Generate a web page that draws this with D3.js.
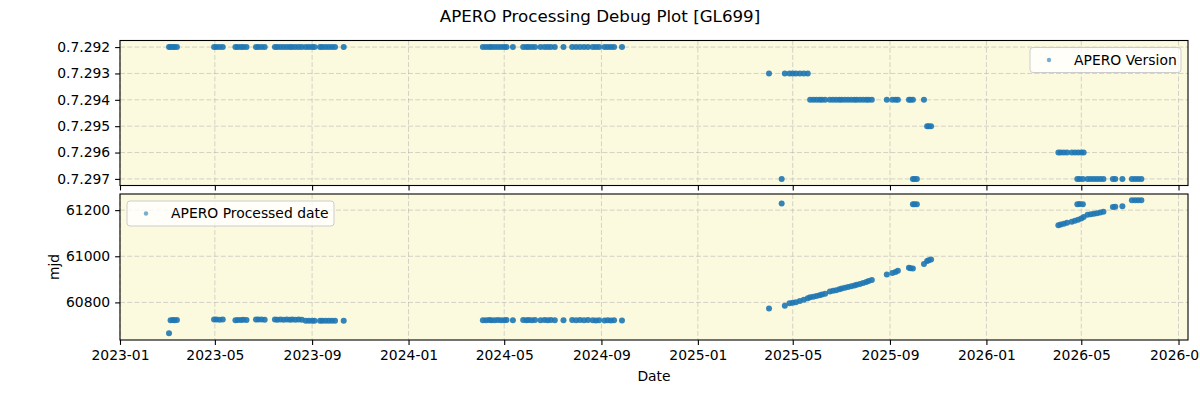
<!DOCTYPE html>
<html>
<head>
<meta charset="utf-8">
<script src="https://cdnjs.cloudflare.com/ajax/libs/d3/7.8.5/d3.min.js"></script>
<style>
body { margin: 0; background: #fff; }
svg { font-family: "DejaVu Sans", sans-serif; }
</style>
</head>
<body>
<svg id="chart" width="1200" height="400"></svg>
<script>
// one entry per observation: date, APERO version, processed date (mjd)
var obsDates = [
    "2023-03-04", "2023-03-06", "2023-03-09", "2023-03-11", "2023-03-14",
    "2023-04-30", "2023-05-03", "2023-05-07", "2023-05-11",
    "2023-05-27", "2023-05-30", "2023-06-03", "2023-06-06", "2023-06-10",
    "2023-06-22", "2023-06-25", "2023-06-29", "2023-07-03",
    "2023-07-16", "2023-07-19", "2023-07-23", "2023-07-27", "2023-07-31",
    "2023-08-04", "2023-08-07", "2023-08-11", "2023-08-15", "2023-08-19",
    "2023-08-24", "2023-08-28", "2023-09-01", "2023-09-04",
    "2023-09-11", "2023-09-14", "2023-09-18", "2023-09-22", "2023-09-26", "2023-09-30",
    "2023-10-11",
    "2024-04-04", "2024-04-08", "2024-04-12", "2024-04-15", "2024-04-19",
    "2024-04-23", "2024-04-27", "2024-05-01", "2024-05-04", "2024-05-12",
    "2024-05-25", "2024-05-29", "2024-06-01", "2024-06-05", "2024-06-09",
    "2024-06-16", "2024-06-21", "2024-06-25", "2024-06-29", "2024-07-04",
    "2024-07-15", "2024-07-26", "2024-07-31", "2024-08-05", "2024-08-10",
    "2024-08-15", "2024-08-21", "2024-08-25", "2024-08-29", "2024-09-05",
    "2024-09-09", "2024-09-13", "2024-09-17", "2024-09-27",
    "2025-04-01", "2025-04-21", "2025-04-27", "2025-05-01", "2025-05-05",
    "2025-05-10", "2025-05-15", "2025-05-20",
    "2025-04-17",
    "2025-05-23", "2025-05-27", "2025-05-31", "2025-06-04", "2025-06-07",
    "2025-06-11", "2025-06-17", "2025-06-21", "2025-06-25", "2025-06-29",
    "2025-07-02", "2025-07-06", "2025-07-10", "2025-07-14", "2025-07-18",
    "2025-07-21", "2025-07-25", "2025-07-29", "2025-08-02", "2025-08-05",
    "2025-08-09", "2025-08-28", "2025-09-04", "2025-09-08", "2025-09-11",
    "2025-09-25", "2025-09-27", "2025-09-30", "2025-10-14",
    "2025-09-30", "2025-10-02", "2025-10-05",
    "2025-10-18", "2025-10-20", "2025-10-23",
    "2026-04-02", "2026-04-05", "2026-04-09", "2026-04-13", "2026-04-19",
    "2026-04-23", "2026-04-27", "2026-05-01", "2026-05-04",
    "2026-04-26", "2026-04-29", "2026-05-03",
    "2026-05-09", "2026-05-13", "2026-05-17", "2026-05-21", "2026-05-25", "2026-05-29",
    "2026-06-10", "2026-06-13", "2026-06-22",
    "2026-07-04", "2026-07-08", "2026-07-12", "2026-07-16"
];

var versions = [
    "0.7.292", "0.7.292", "0.7.292", "0.7.292", "0.7.292",
    "0.7.292", "0.7.292", "0.7.292", "0.7.292",
    "0.7.292", "0.7.292", "0.7.292", "0.7.292", "0.7.292",
    "0.7.292", "0.7.292", "0.7.292", "0.7.292",
    "0.7.292", "0.7.292", "0.7.292", "0.7.292", "0.7.292",
    "0.7.292", "0.7.292", "0.7.292", "0.7.292", "0.7.292",
    "0.7.292", "0.7.292", "0.7.292", "0.7.292",
    "0.7.292", "0.7.292", "0.7.292", "0.7.292", "0.7.292", "0.7.292",
    "0.7.292",
    "0.7.292", "0.7.292", "0.7.292", "0.7.292", "0.7.292",
    "0.7.292", "0.7.292", "0.7.292", "0.7.292", "0.7.292",
    "0.7.292", "0.7.292", "0.7.292", "0.7.292", "0.7.292",
    "0.7.292", "0.7.292", "0.7.292", "0.7.292", "0.7.292",
    "0.7.292", "0.7.292", "0.7.292", "0.7.292", "0.7.292",
    "0.7.292", "0.7.292", "0.7.292", "0.7.292", "0.7.292",
    "0.7.292", "0.7.292", "0.7.292", "0.7.292",
    "0.7.293", "0.7.293", "0.7.293", "0.7.293", "0.7.293",
    "0.7.293", "0.7.293", "0.7.293",
    "0.7.297",
    "0.7.294", "0.7.294", "0.7.294", "0.7.294", "0.7.294",
    "0.7.294", "0.7.294", "0.7.294", "0.7.294", "0.7.294",
    "0.7.294", "0.7.294", "0.7.294", "0.7.294", "0.7.294",
    "0.7.294", "0.7.294", "0.7.294", "0.7.294", "0.7.294",
    "0.7.294", "0.7.294", "0.7.294", "0.7.294", "0.7.294",
    "0.7.294", "0.7.294", "0.7.294", "0.7.294",
    "0.7.297", "0.7.297", "0.7.297",
    "0.7.295", "0.7.295", "0.7.295",
    "0.7.296", "0.7.296", "0.7.296", "0.7.296", "0.7.296",
    "0.7.296", "0.7.296", "0.7.296", "0.7.296",
    "0.7.297", "0.7.297", "0.7.297",
    "0.7.297", "0.7.297", "0.7.297", "0.7.297", "0.7.297", "0.7.297",
    "0.7.297", "0.7.297", "0.7.297",
    "0.7.297", "0.7.297", "0.7.297", "0.7.297"
];

var processedMjd = [
    60666, 60723, 60724, 60723, 60724,
    60726, 60726, 60725, 60726,
    60723, 60724, 60724, 60725, 60724,
    60726, 60726, 60726, 60725,
    60726, 60725, 60726, 60725, 60726,
    60725, 60726, 60725, 60726, 60725,
    60721, 60720, 60721, 60720,
    60721, 60720, 60721, 60720, 60721, 60720,
    60721,
    60723, 60723, 60724, 60723, 60723,
    60724, 60723, 60723, 60724, 60723,
    60724, 60723, 60724, 60723, 60724,
    60723, 60724, 60723, 60724, 60723,
    60723, 60724, 60723, 60724, 60723,
    60724, 60723, 60722, 60723, 60722,
    60723, 60722, 60723, 60722,
    60774, 60785, 60796, 60799, 60801,
    60806, 60812, 60818,
    61229,
    60822, 60825, 60828, 60831, 60834,
    60837, 60847, 60850, 60853, 60857,
    60860, 60863, 60867, 60870, 60873,
    60877, 60880, 60884, 60888, 60893,
    60897, 60921, 60928, 60932, 60937,
    60950, 60948, 60947, 60966,
    61226, 61226, 61226,
    60980, 60983, 60986,
    61135, 61138, 61141, 61145, 61150,
    61154, 61158, 61164, 61170,
    61226, 61227, 61226,
    61180, 61182, 61184, 61187, 61190, 61193,
    61214, 61215, 61217,
    61243, 61243, 61243, 61243
];

var versionLevels = ["0.7.292", "0.7.293", "0.7.294", "0.7.295", "0.7.296", "0.7.297"];
var mjdTicks = [60800, 61000, 61200];
var dateTicks = ["2023-01", "2023-05", "2023-09", "2024-01", "2024-05", "2024-09",
                 "2025-01", "2025-05", "2025-09", "2026-01", "2026-05", "2026-09"];
var dateRange = ["2023-01-01", "2026-09-13"];
var mjdRange = [60637, 61270];

var svg = d3.select('#chart');
var parseDay = d3.timeParse('%Y-%m-%d'),
    parseMonth = d3.timeParse('%Y-%m');

var left = 120, right = 1188;
var topPanel = { y0: 40.5, y1: 185.5 },
    botPanel = { y0: 194, y1: 340 };
var dotColor = '#1f77b4',
    bgColor = '#fcfade',
    fontSize = 13.9;

var points = obsDates.map(function (d, i) {
    return { date: parseDay(d), version: versions[i], mjd: processedMjd[i] };
});

var x = d3.scaleTime()
    .domain(dateRange.map(parseDay))
    .range([left, right]);

var yVer = d3.scalePoint()
    .domain(versionLevels)
    .range([topPanel.y0, topPanel.y1])
    .padding(0.25);

var yMjd = d3.scaleLinear()
    .domain(mjdRange)
    .range([botPanel.y1, botPanel.y0]);

var xTickDates = dateTicks.map(parseMonth);

function drawPanel(panel, yScale, yTicks, yFormat, yValue, showXLabels, legendText, legendPos) {
    var g = svg.append('g');

    g.append('rect')
        .attr('x', left).attr('y', panel.y0)
        .attr('width', right - left).attr('height', panel.y1 - panel.y0)
        .style('fill', bgColor);

    // dashed grid
    g.selectAll('.gx').data(xTickDates).enter().append('line')
        .attr('x1', function (d) { return x(d); })
        .attr('x2', function (d) { return x(d); })
        .attr('y1', panel.y0).attr('y2', panel.y1)
        .style('stroke', '#b0b0b0').style('stroke-opacity', 0.55)
        .style('stroke-width', 1).style('stroke-dasharray', '5,2.2');
    g.selectAll('.gy').data(yTicks).enter().append('line')
        .attr('x1', left).attr('x2', right)
        .attr('y1', function (d) { return yScale(d); })
        .attr('y2', function (d) { return yScale(d); })
        .style('stroke', '#b0b0b0').style('stroke-opacity', 0.55)
        .style('stroke-width', 1).style('stroke-dasharray', '5,2.2');

    g.append('clipPath').attr('id', 'clip' + panel.y0)
        .append('rect')
        .attr('x', left).attr('y', panel.y0)
        .attr('width', right - left).attr('height', panel.y1 - panel.y0);

    g.append('g')
        .attr('clip-path', 'url(#clip' + panel.y0 + ')')
        .selectAll('.dot').data(points).enter().append('circle')
        .attr('class', 'dot')
        .attr('cx', function (d) { return x(d.date); })
        .attr('cy', function (d) { return yScale(yValue(d)); })
        .attr('r', 3)
        .style('fill', dotColor)
        .style('fill-opacity', 0.9);

    var xAxis = d3.axisBottom(x)
        .tickValues(xTickDates)
        .tickFormat(showXLabels ? d3.timeFormat('%Y-%m') : '')
        .tickSizeInner(4.9).tickSizeOuter(0).tickPadding(4.9);
    var xg = g.append('g')
        .attr('transform', 'translate(0,' + panel.y1 + ')')
        .call(xAxis);
    xg.select('.domain').remove();
    xg.selectAll('text').style('font-size', fontSize + 'px').style('fill', '#000')
        .style('font-family', '"DejaVu Sans", sans-serif');
    xg.selectAll('line').style('stroke', '#000').style('stroke-width', 1.1);

    var yAxis = d3.axisLeft(yScale)
        .tickValues(yTicks)
        .tickSizeInner(4.9).tickSizeOuter(0).tickPadding(4.9);
    if (yFormat) yAxis.tickFormat(yFormat);
    var yg = g.append('g')
        .attr('transform', 'translate(' + left + ',0)')
        .call(yAxis);
    yg.select('.domain').remove();
    yg.selectAll('text').style('font-size', fontSize + 'px').style('fill', '#000')
        .style('font-family', '"DejaVu Sans", sans-serif');
    yg.selectAll('line').style('stroke', '#000').style('stroke-width', 1.1);

    g.append('rect')
        .attr('x', left).attr('y', panel.y0)
        .attr('width', right - left).attr('height', panel.y1 - panel.y0)
        .style('fill', 'none').style('stroke', '#000').style('stroke-width', 1.1);

    // legend
    var lg = g.append('g').attr('transform', 'translate(' + legendPos[0] + ',' + legendPos[1] + ')');
    lg.append('rect')
        .attr('width', legendPos[2]).attr('height', 25)
        .attr('rx', 3)
        .style('fill', '#fff').style('fill-opacity', 0.8)
        .style('stroke', '#cccccc').style('stroke-width', 1);
    lg.append('circle')
        .attr('cx', 19).attr('cy', 12.5).attr('r', 2.2)
        .style('fill', dotColor).style('fill-opacity', 0.6);
    lg.append('text')
        .attr('x', 44).attr('y', 17.3)
        .style('font-size', fontSize + 'px')
        .text(legendText);
}

drawPanel(topPanel, yVer, versionLevels, null, function (d) { return d.version; }, false,
    'APERO Version', [1030, 47.5, 151]);
drawPanel(botPanel, yMjd, mjdTicks, d3.format('d'), function (d) { return d.mjd; }, true,
    'APERO Processed date', [127, 201, 207]);

svg.append('text')
    .attr('x', 600).attr('y', 22)
    .attr('text-anchor', 'middle')
    .style('font-size', '16.7px')
    .text('APERO Processing Debug Plot [GL699]');

svg.append('text')
    .attr('x', (left + right) / 2).attr('y', 381)
    .attr('text-anchor', 'middle')
    .style('font-size', fontSize + 'px')
    .text('Date');

svg.append('text')
    .attr('transform', 'translate(59,' + (botPanel.y0 + botPanel.y1) / 2 + ') rotate(-90)')
    .attr('text-anchor', 'middle')
    .style('font-size', fontSize + 'px')
    .text('mjd');
</script>
</body>
</html>
